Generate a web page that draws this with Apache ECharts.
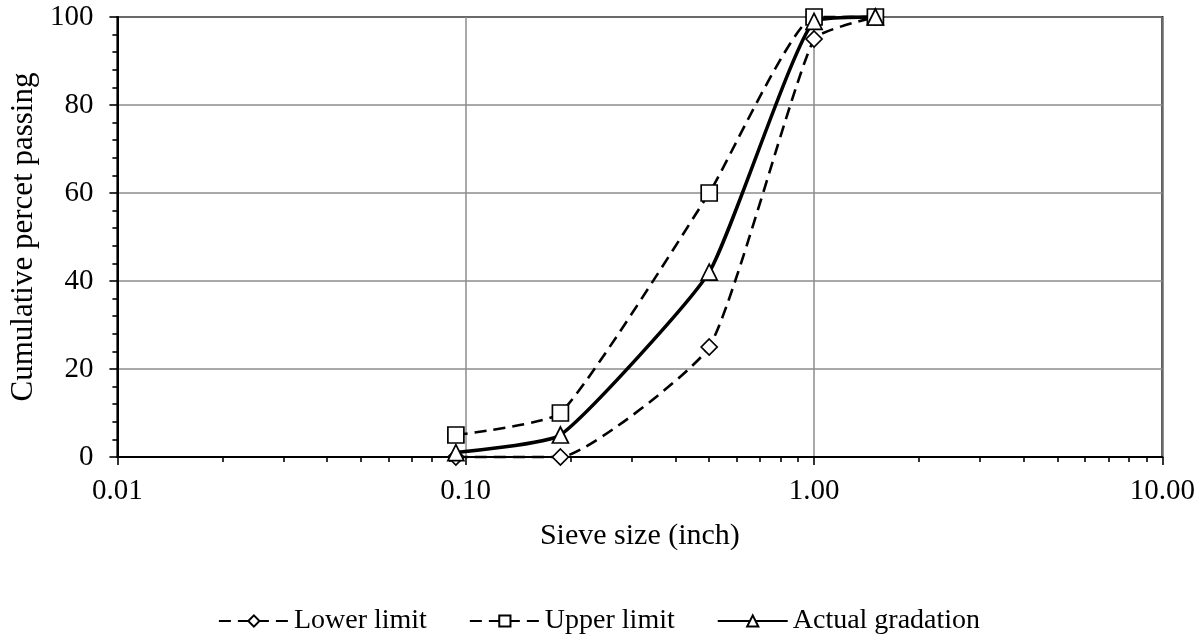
<!DOCTYPE html>
<html>
<head>
<meta charset="utf-8">
<script src="https://cdn.jsdelivr.net/npm/echarts@6/dist/echarts.min.js"></script>
<style>
html,body{margin:0;padding:0;background:#fff;}
#chart{width:1198px;height:634px;}
</style>
</head>
<body>
<div id="chart"></div>
<script>
// Data
const sieveSizes = [0.0937, 0.187, 0.5, 1.0, 1.5];
const lowerLimit = [0, 0, 25, 95, 100];
const upperLimit = [5, 10, 60, 100, 100];
const actualGradation = [1, 5, 42, 99, 100];
const seriesNames = ['Lower limit', 'Upper limit', 'Actual gradation'];
const xMajorTicks = [0.01, 0.1, 1, 10];
const xMinorTicks = [0.02,0.03,0.04,0.05,0.06,0.07,0.08,0.09,
                     0.2,0.3,0.4,0.5,0.6,0.7,0.8,0.9,
                     2,3,4,5,6,7,8,9];

const FONT = 'Liberation Serif';

function pairs(ys){ return sieveSizes.map((x,i)=>[x, ys[i]]); }

const chart = echarts.init(document.getElementById('chart'), null, {renderer:'canvas'});

const markerStyle = {color:'#fff', borderColor:'#000', borderWidth:1.7};

chart.setOption({
  animation:false,
  backgroundColor:'#fff',
  textStyle:{fontFamily:FONT, color:'#000'},
  grid:{left:107, right:33, top:17, bottom:177, show:true, borderColor:'#000', borderWidth:2, containLabel:false},
  legend:{
    top:602, left:'center',
    itemWidth:70, itemHeight:14, itemGap:42,
    textStyle:{fontFamily:FONT, fontSize:28, color:'#000'},
    data:seriesNames
  },
  xAxis:[{
    type:'log', logBase:10, min:0.01, max:10,
    name:'Sieve size (inch)', nameLocation:'middle', nameGap:64,
    nameTextStyle:{fontFamily:FONT, fontSize:30, color:'#000'},
    axisLine:{show:true, lineStyle:{color:'#000', width:2}},
    axisTick:{show:true, length:8, lineStyle:{color:'#000', width:1.6}, customValues:xMajorTicks},
    axisLabel:{fontFamily:FONT, fontSize:29, color:'#000', margin:20,
      customValues:xMajorTicks,
      formatter:(v)=>Number(v).toFixed(2)},
    splitLine:{show:true, lineStyle:{color:'#8c8c8c', width:1.5}}
  },{
    type:'log', logBase:10, min:0.01, max:10, position:'bottom',
    axisLine:{show:false},
    axisLabel:{show:false},
    splitLine:{show:false},
    axisTick:{show:true, length:5, lineStyle:{color:'#000', width:1.6}, customValues:xMinorTicks}
  }],
  yAxis:{
    type:'value', min:0, max:100, interval:20,
    name:'Cumulative percet passing', nameLocation:'middle', nameGap:74,
    nameTextStyle:{fontFamily:FONT, fontSize:31, color:'#000'},
    axisLine:{show:true, lineStyle:{color:'#000', width:2}},
    axisTick:{show:true, length:8, lineStyle:{color:'#000', width:1.6}},
    minorTick:{show:true, splitNumber:5, length:5, lineStyle:{color:'#000', width:1.6}},
    axisLabel:{fontFamily:FONT, fontSize:29, color:'#000', margin:24},
    splitLine:{show:true, lineStyle:{color:'#8c8c8c', width:1.5}}
  },
  series:[
    {name:seriesNames[0], type:'line', data:pairs(lowerLimit), smooth:0.15, clip:false,
     symbol:'diamond', symbolSize:16, itemStyle:markerStyle,
     lineStyle:{color:'#000', width:2.6, type:[12,7]}},
    {name:seriesNames[1], type:'line', data:pairs(upperLimit), smooth:0.15, clip:false,
     symbol:'rect', symbolSize:16, itemStyle:markerStyle,
     lineStyle:{color:'#000', width:2.6, type:[12,7]}},
    {name:seriesNames[2], type:'line', data:pairs(actualGradation), smooth:0.15, clip:false,
     symbol:'triangle', symbolSize:16, itemStyle:markerStyle,
     lineStyle:{color:'#000', width:3.5, type:'solid'}}
  ]
});
</script>
</body>
</html>
